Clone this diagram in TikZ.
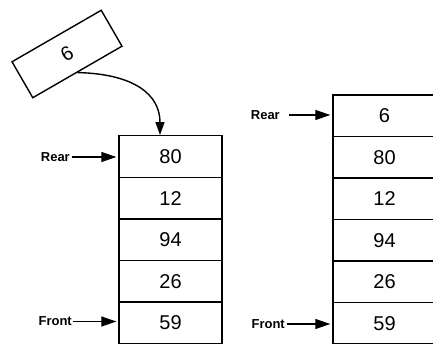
\documentclass[tikz,border=0pt]{standalone}
\usepackage{fontspec}
\setmainfont{Liberation Sans}
\usetikzlibrary{arrows.meta,calc}

\tikzset{
  cell/.style={draw, line width=1.4pt, minimum width=103pt, minimum height=41.5pt,
               inner sep=0pt, font=\fontsize{20}{20}\selectfont},
  tag/.style={anchor=east, inner sep=0pt, font=\bfseries\fontsize{13}{13}\selectfont},
  ptr/.style={line width=1.3pt, -{Triangle[length=15pt,width=10pt]}},
  drop/.style={line width=1.4pt, -{Triangle[length=13pt,width=9pt]}}
}

\begin{document}
\begin{tikzpicture}[x=1pt,y=-1pt]
  \useasboundingbox (0,0) rectangle (433,344);
  \clip (0,0) rectangle (433,344);

  % element being enqueued
  \node[cell, rotate=30] (six) at (67,54) {6};

  % queue before the insertion
  \foreach \v [count=\i from 0] in {80,12,94,26,59}
    \node[cell] (L\i) at (170.5,{156.5+41.6*\i}) {\v};

  % queue after the insertion
  \foreach \v [count=\i from 0] in {6,80,12,94,26,59}
    \node[cell] (R\i) at (384.5,{115.8+41.5*\i}) {\v};

  % pointer labels
  \node[tag] (rearL)  at (70,157)   {Rear};
  \node[tag] (frontL) at (72,321.5) {Front};
  \node[tag] (rearR)  at (280,115)  {Rear};
  \node[tag] (frontR) at (285,324)  {Front};

  \draw[ptr, shorten <=1.5pt, shorten >=2pt] (rearL.east)  -- (rearL.east -| L0.west);
  \draw[ptr, shorten <=0.5pt, shorten >=2pt] (frontL.east) -- (frontL.east -| L4.west);
  \draw[ptr, shorten <=9pt, shorten >=2pt]   (rearR.east)  -- (rearR.east -| R0.west);
  \draw[ptr, shorten <=2pt, shorten >=2pt]   (frontR.east) -- (frontR.east -| R5.west);

  % insertion path into the rear of the queue
  \coordinate (entry) at ($(L0.north)+(-10.5,0)$);
  \draw[drop] (six.south) .. controls (135,74) and (160,95) .. (entry);
\end{tikzpicture}
\end{document}
